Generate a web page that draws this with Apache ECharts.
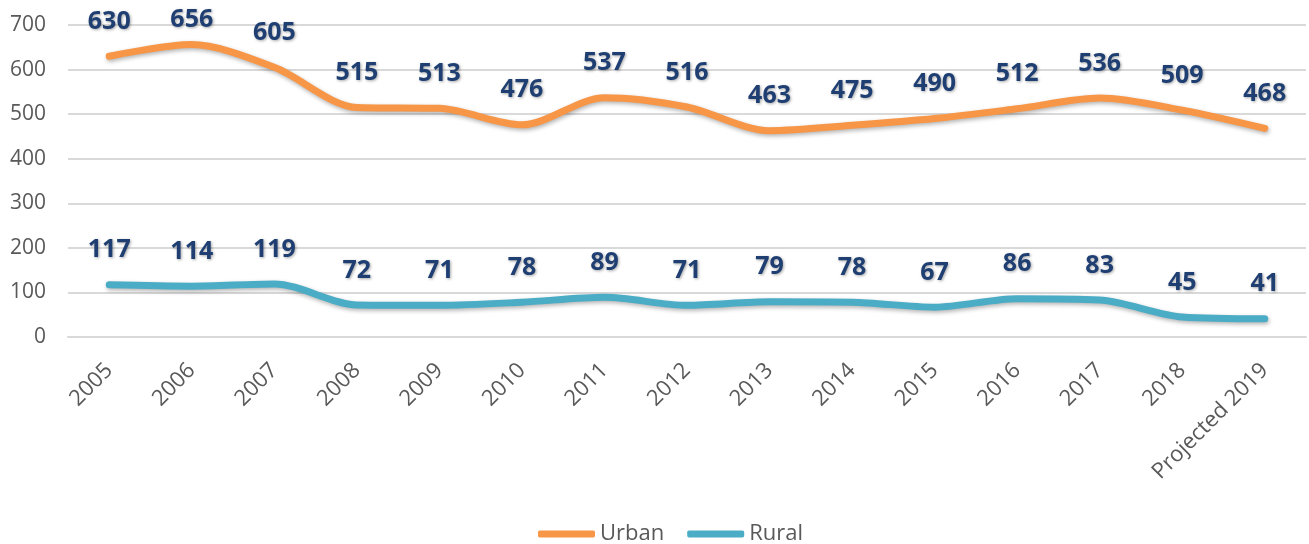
<!DOCTYPE html>
<html><head><meta charset="utf-8">
<script src="https://cdn.jsdelivr.net/npm/echarts@6/dist/echarts.min.js"></script>
<style>html,body{margin:0;padding:0;background:#fff}#c{width:1309px;height:544px}</style>
</head><body><div id="c"></div>
<script>
const categories = ['2005','2006','2007','2008','2009','2010','2011','2012','2013','2014','2015','2016','2017','2018','Projected 2019'];
const urban = [630,656,605,515,513,476,537,516,463,475,490,512,536,509,468];
const rural = [117,114,119,72,71,78,89,71,79,78,67,86,83,45,41];
const yTicks = {min:0, max:700, interval:100};

const chart = echarts.init(document.getElementById('c'));
const lbl = {
  show:true, position:'top', distance:22,
  color:'#1F3F73', fontFamily:'Open Sans', fontWeight:'bold', fontSize:25,
  textShadowColor:'rgba(0,0,0,0.35)', textShadowBlur:3, textShadowOffsetX:1, textShadowOffsetY:1
};
function items(data){
  // labels near the top edge are pulled down to stay inside the chart, as in the reference
  return data.map(v => v > 640 ? {value:v, label:{distance:12}} : v);
}
function ser(name, data, color){
  return {
    name, type:'line', data:items(data), smooth:0.3, symbol:'circle', symbolSize:0, showSymbol:true,
    lineStyle:{width:7, color, cap:'round', shadowColor:'rgba(0,0,0,0.3)', shadowBlur:4, shadowOffsetX:1, shadowOffsetY:2},
    itemStyle:{color},
    label:lbl
  };
}
chart.setOption({
  animation:false,
  grid:{left:68, right:3, top:25, bottom:207, containLabel:false},
  legend:{
    bottom:-6, left:533, itemWidth:57, itemHeight:7, itemGap:23,
    textStyle:{color:'#595959', fontFamily:'Open Sans', fontSize:22},
    icon:'roundRect'
  },
  xAxis:{
    type:'category', data:categories, boundaryGap:true,
    axisLine:{lineStyle:{color:'#D9D9D9', width:2}}, axisTick:{show:false},
    axisLabel:{rotate:45, color:'#595959', fontFamily:'Open Sans', fontSize:22, margin:30, interval:0}
  },
  yAxis:{
    type:'value', min:yTicks.min, max:yTicks.max, interval:yTicks.interval,
    axisLine:{show:false}, axisTick:{show:false},
    splitLine:{lineStyle:{color:'#D9D9D9', width:2}},
    axisLabel:{color:'#595959', fontFamily:'Open Sans', fontSize:21, margin:22}
  },
  series:[ser('Urban', urban, '#F79646'), ser('Rural', rural, '#4BACC6')]
});
</script></body></html>
